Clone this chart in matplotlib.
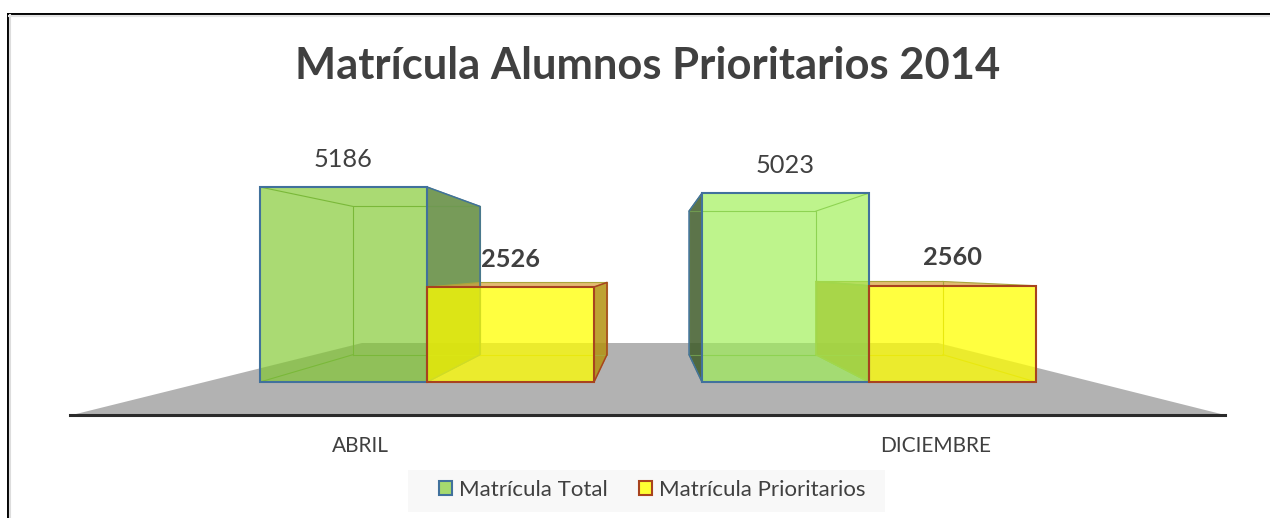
import matplotlib
matplotlib.use('Agg')
import matplotlib.pyplot as plt
from matplotlib.lines import Line2D
from matplotlib.patches import Patch, Polygon, Rectangle

categories = ['ABRIL', 'DICIEMBRE']
matricula_total = [5186, 5023]
matricula_prioritarios = [2526, 2560]
title = 'Matrícula Alumnos Prioritarios 2014'
series_names = ['Matrícula Total', 'Matrícula Prioritarios']

W, H = 1270, 518
# escala de los ejes: pixeles por categoria y por alumno
X0, Y0 = 427, 382
PX_X, PX_Y = 442.0, 0.0376
BAR_W = 167 / PX_X
DEPTH = 0.24


def dx(p):
    return (p - X0) / PX_X


def dy(p):
    return (Y0 - p) / PX_Y


VP_X, VP_Y = dx(648), dy(268)


def back(x, y):
    return x + (VP_X - x) * DEPTH, y + (VP_Y - y) * DEPTH


def quad(pts, **kw):
    ax.add_patch(Polygon(pts, closed=True, **kw))


def box_back(left, height, edge, side, side_alpha, inner, top=None):
    # caras interiores y lateral oscura de la caja, antes de la cara frontal
    right = left + BAR_W
    lb, rb = back(left, 0), back(right, 0)
    lt, rt = back(left, height), back(right, height)
    # lateral hacia el punto de fuga
    if left + BAR_W / 2 < VP_X:
        pts = [(right, 0), rb, rt, (right, height)]
    else:
        pts = [(left, 0), lb, lt, (left, height)]
    quad(pts, facecolor=side, alpha=side_alpha, edgecolor='none', zorder=3)
    ax.plot([p[0] for p in pts], [p[1] for p in pts], color=edge, lw=1.1, zorder=3.2)
    if top:
        quad([(left, height), lt, rt, (right, height)], facecolor=top, alpha=0.75,
             edgecolor='none', zorder=3)
    for a, b in [((left, 0), lb), ((right, 0), rb), ((left, height), lt), ((right, height), rt)]:
        ax.plot([a[0], b[0]], [a[1], b[1]], color=inner, lw=0.8, zorder=3.1)
    ax.plot([lb[0], rb[0], rt[0], lt[0], lb[0]], [lb[1], rb[1], rt[1], lt[1], lb[1]],
            color=inner, lw=0.8, zorder=3.1)


fig = plt.figure(figsize=(W / 100, H / 100), dpi=100)
ax = fig.add_axes([0, 0, 1, 1])
ax.set_xlim(dx(0), dx(W))
ax.set_ylim(dy(H), dy(0))
ax.axis('off')
plt.rcParams['font.family'] = ['Lato', 'DejaVu Sans']
TXT = '#404040'

# piso gris y linea del eje
quad([(dx(72), dy(415)), (dx(1225), dy(415)), (dx(938), dy(343)), (dx(362), dy(343))],
     facecolor='#B2B2B2', edgecolor='none', zorder=1)
ax.plot([dx(70), dx(1225)], [dy(415), dy(415)], color='#2B2B2B', lw=2.2, zorder=2)

positions = list(range(len(categories)))
green_faces = ['#80C82E', '#9EF054']
green_sides = ['#5F8A3C', '#3F5C2A']
green_edge = '#41719C'
yellow_edge = '#A8431E'
yellow_side_edges = [yellow_edge, '#A9A63A']

for i in positions:
    box_back(i - BAR_W, matricula_total[i], green_edge, green_sides[i], 0.85, '#6F9A50')
    box_back(i, matricula_prioritarios[i], yellow_side_edges[i], '#B3920F', 0.85, '#A9A63A',
             top='#D9A441')

ax.bar([p - BAR_W / 2 for p in positions], matricula_total, BAR_W, color=green_faces,
       alpha=0.67, zorder=4)
ax.bar([p - BAR_W / 2 for p in positions], matricula_total, BAR_W, facecolor='none',
       edgecolor=green_edge, lw=1.5, zorder=5)
ax.bar([p + BAR_W / 2 for p in positions], matricula_prioritarios, BAR_W, color='#FFFF00',
       alpha=0.75, zorder=4.5)
ax.bar([p + BAR_W / 2 for p in positions], matricula_prioritarios, BAR_W, facecolor='none',
       edgecolor=yellow_edge, lw=1.5, zorder=5.5)

# etiquetas de datos
for i in positions:
    ax.annotate(str(matricula_total[i]), (i - BAR_W / 2, matricula_total[i]),
                xytext=(0, 20), textcoords='offset points', ha='center', va='center',
                fontsize=18.3, color=TXT, zorder=6)
    ax.annotate(str(matricula_prioritarios[i]), (i + BAR_W / 2, matricula_prioritarios[i]),
                xytext=(0, 20), textcoords='offset points', ha='center', va='center',
                fontsize=18.3, fontweight='bold', color=TXT, zorder=6)

# etiquetas de categoria, desplazadas como en la perspectiva original
label_x = [-0.15, 1.15]
for x, name in zip(label_x, categories):
    ax.text(x, dy(446), name, ha='center', va='center', fontsize=15, color=TXT)

ax.text(dx(648), dy(66), title, ha='center', va='center', fontsize=31.3, fontweight='bold',
        color=TXT)

# fondo de la leyenda
fig.add_artist(Rectangle((408 / W, 1 - 512 / H), 477 / W, 42 / H, transform=fig.transFigure,
                         facecolor='#F8F8F8', edgecolor='none'))
handles = [Patch(facecolor='#A6DA6E', edgecolor=green_edge, lw=1.5),
           Patch(facecolor='#FFFF33', edgecolor=yellow_edge, lw=1.5)]
leg = fig.legend(handles, series_names, loc='center', bbox_to_anchor=(652 / W, 1 - 490 / H),
                 ncol=2, frameon=False, fontsize=16, labelcolor=TXT, handlelength=0.6,
                 handleheight=0.6, handletextpad=0.3, columnspacing=1.4, borderpad=0)

# marco del grafico
fig.add_artist(Line2D([7.5 / W, 7.5 / W], [0, 1 - 13.5 / H], color='#000000', lw=1.4))
fig.add_artist(Line2D([7.5 / W, 1 / 1], [1 - 13.5 / H, 1 - 13.5 / H], color='#000000', lw=1.4))
fig.add_artist(Line2D([10 / W, 10 / W], [0, 1 - 15 / H], color='#DDDDDD', lw=1.5))
fig.add_artist(Line2D([9 / W, 1], [1 - 16 / H, 1 - 16 / H], color='#E4E4E4', lw=1.5))

fig.savefig('out.png', dpi=100)
